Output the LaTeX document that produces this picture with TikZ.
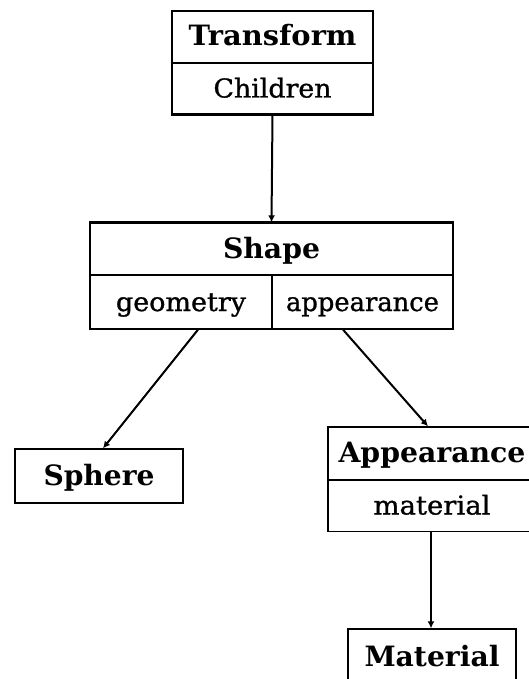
\documentclass[tikz,border=0pt]{standalone}
\usepackage{fontspec}
\setmainfont{DejaVu Serif}
\newfontfamily\subfont[FakeBold=1.0]{DejaVu Serif}
\usetikzlibrary{arrows.meta}
\newsavebox\fitsbox
\newcommand\fitx[2]{\sbox\fitsbox{#2}\pgfmathsetmacro\fitsx{#1/\wd\fitsbox}\scalebox{\fitsx}[1]{\usebox\fitsbox}}
\tikzset{
  cell/.style={draw, line width=1.3pt, rectangle, inner sep=0pt, text height=20pt, text depth=2pt, align=center},
  ttl/.style={font=\fontsize{28}{30}\selectfont\bfseries},
  sub/.style={font=\fontsize{26}{28}\selectfont\subfont},
  link/.style={line width=2pt, -{Latex[length=7pt,width=7pt]}},
  heavy/.style={line width=3pt}
}
\begin{document}
\begin{tikzpicture}[x=1pt,y=-1pt]
\useasboundingbox (0,0) rectangle (529,679);
\clip (0,0) rectangle (529,679);
% Transform
\node[cell,ttl,minimum width=201pt,minimum height=52pt] (tf) at (272.5,37) {\fitx{168}{Transform}};
\node[cell,sub,minimum width=201pt,minimum height=51pt] (tfc) at (272.5,88.5) {\fitx{118}{Children}};
\draw[heavy] (tfc.south west) -- (tfc.south east);
% Shape
\node[cell,ttl,minimum width=363pt,minimum height=52pt] (sh) at (271.5,249) {\fitx{97}{Shape}};
\node[cell,sub,minimum width=182pt,minimum height=54pt] (shg) at (181,302) {\fitx{130}{geometry}};
\node[cell,sub,minimum width=181pt,minimum height=54pt] (sha) at (362.5,302) {\fitx{153}{appearance}};
\draw[heavy] (sh.north west) -- (sh.north east);
% Sphere
\node[cell,ttl,minimum width=168pt,minimum height=54pt] (sp) at (99,476) {\fitx{111}{Sphere}};
% Appearance
\node[cell,ttl,minimum width=208pt,minimum height=53pt] (ap) at (432,453.5) {\fitx{187}{Appearance}};
\node[cell,sub,minimum width=208pt,minimum height=52pt] (apm) at (432,505.5) {\fitx{117}{material}};
% Material
\node[cell,ttl,minimum width=168pt,minimum height=56pt] (mt) at (432,657) {\fitx{135}{Material}};
% connectors
\draw[link] (tfc.south) -- (sh.north);
\draw[link] ([xshift=17pt]shg.south) -- ([xshift=4pt]sp.north);
\draw[link] ([xshift=-19.5pt]sha.south) -- ([xshift=-4pt]ap.north);
\draw[link] ([xshift=-1pt]apm.south) -- ([xshift=-1pt]mt.north);
\end{tikzpicture}
\end{document}
